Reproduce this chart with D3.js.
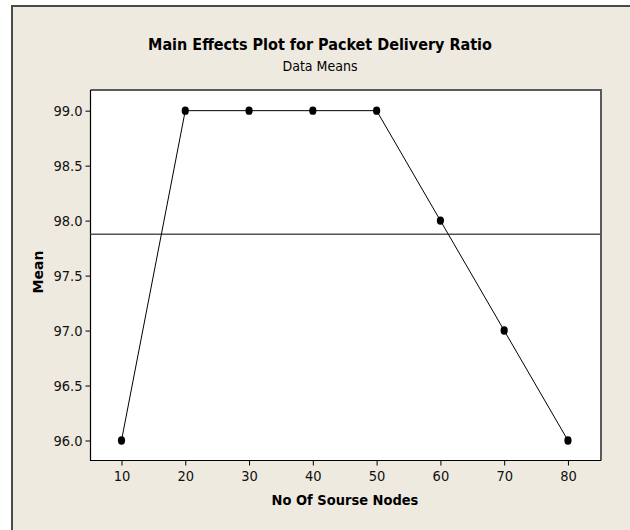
<!DOCTYPE html>
<html>
<head>
<meta charset="utf-8">
<script src="https://cdn.jsdelivr.net/npm/d3@7"></script>
<style>
  body { margin: 0; background: #fff; }
  text { font-family: "DejaVu Sans", sans-serif; font-stretch: condensed; }
</style>
</head>
<body>
<svg width="630" height="530"></svg>
<script>
// data
var nodes = [10, 20, 30, 40, 50, 60, 70, 80];
var means = [96.0, 99.0, 99.0, 99.0, 99.0, 98.0, 97.0, 96.0];
var yTicks = [96.0, 96.5, 97.0, 97.5, 98.0, 98.5, 99.0];
var grandMean = d3.mean(means);

var svg = d3.select("svg");

// panel background + frame (left/top edges only visible in reference)
svg.append("rect").attr("x", 11).attr("y", 5).attr("width", 640).attr("height", 540)
  .attr("fill", "#eeeae0");
svg.append("path").attr("d", "M12,531V6H631")
  .attr("fill", "none").attr("stroke", "#4a4a4a").attr("stroke-width", 2);

var pLeft = 90.5, pRight = 601, pTop = 90, pBottom = 460.5;

var x = d3.scaleLinear().domain([5.14, 85.18]).range([pLeft, pRight]);
var y = d3.scaleLinear().domain([95.818, 99.188]).range([pBottom, pTop]);

svg.append("rect")
  .attr("x", pLeft).attr("y", pTop)
  .attr("width", pRight - pLeft).attr("height", pBottom - pTop)
  .attr("fill", "#fff");

// axes
var gx = svg.append("g")
  .attr("transform", "translate(0," + pBottom + ")")
  .call(d3.axisBottom(x).tickValues(nodes).tickSize(5).tickPadding(5).tickFormat(d3.format("d")));
gx.select(".domain").remove();
gx.selectAll("text").attr("font-size", 14.5).attr("fill", "#111")
  .style("font-family", "'DejaVu Sans', sans-serif");

var gy = svg.append("g")
  .attr("transform", "translate(" + pLeft + ",0)")
  .call(d3.axisLeft(y).tickValues(yTicks).tickSize(5).tickPadding(3).tickFormat(d3.format(".1f")));
gy.select(".domain").remove();
gy.selectAll("text").attr("font-size", 14.5).attr("fill", "#111")
  .style("font-family", "'DejaVu Sans', sans-serif");

// plot frame
svg.append("path")
  .attr("d", "M" + pLeft + "," + pTop + "H" + pRight + "V" + pBottom)
  .attr("fill", "none").attr("stroke", "#5a5a5a").attr("stroke-width", 2);
svg.append("path")
  .attr("d", "M" + pLeft + "," + pTop + "V" + pBottom + "H" + pRight)
  .attr("fill", "none").attr("stroke", "#000").attr("stroke-width", 1.2);

// overall mean reference line
svg.append("line")
  .attr("x1", pLeft).attr("x2", pRight)
  .attr("y1", y(grandMean)).attr("y2", y(grandMean))
  .attr("stroke", "#555").attr("stroke-width", 1.5);

var line = d3.line()
  .x(function(d, i) { return x(nodes[i]); })
  .y(function(d) { return y(d); });

svg.append("path")
  .datum(means)
  .attr("fill", "none")
  .attr("stroke", "#000")
  .attr("stroke-width", 1)
  .attr("d", line);

svg.selectAll(".dot")
  .data(means)
  .enter().append("ellipse")
  .attr("cx", function(d, i) { return x(nodes[i]); })
  .attr("cy", function(d) { return y(d); })
  .attr("rx", 3.6).attr("ry", 4.2)
  .attr("fill", "#000");

// titles
svg.append("text")
  .attr("x", 320).attr("y", 50)
  .attr("text-anchor", "middle")
  .attr("font-size", 16).attr("font-weight", "bold")
  .text("Main Effects Plot for Packet Delivery Ratio");

svg.append("text")
  .attr("x", 320).attr("y", 71)
  .attr("text-anchor", "middle")
  .attr("font-size", 14)
  .text("Data Means");

svg.append("text")
  .attr("x", 345).attr("y", 505)
  .attr("text-anchor", "middle")
  .attr("font-size", 14.5).attr("font-weight", "bold")
  .text("No Of Sourse Nodes");

svg.append("text")
  .attr("transform", "translate(43,272) rotate(-90)")
  .attr("text-anchor", "middle")
  .attr("font-size", 14).attr("font-weight", "bold")
  .style("font-stretch", "normal")
  .text("Mean");
</script>
</body>
</html>
